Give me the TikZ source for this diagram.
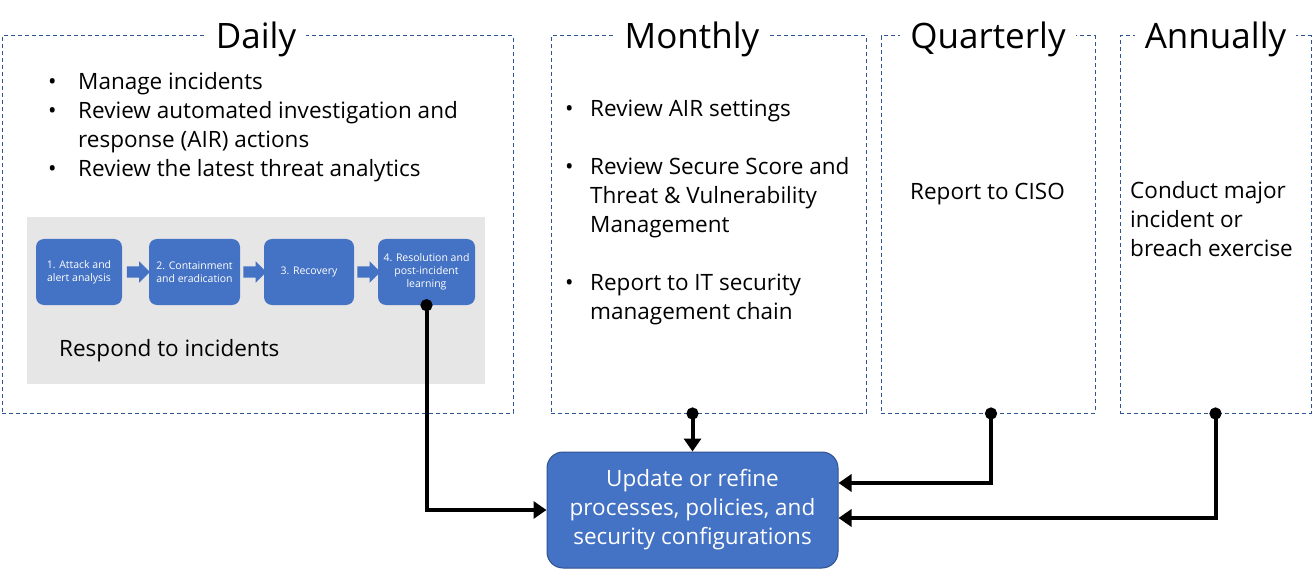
\documentclass[tikz,border=0pt]{standalone}
\usepackage{fontspec}
\setmainfont{Open Sans}
\usetikzlibrary{shapes.arrows,arrows.meta}
\definecolor{boxblue}{HTML}{4472C4}
\definecolor{edgeblue}{HTML}{2F528F}
\definecolor{dashblue}{HTML}{2F5597}
\definecolor{panelgray}{HTML}{E7E6E6}
\tikzset{
  frame/.style={draw=dashblue,line width=1pt,dash pattern=on 4pt off 3pt,minimum height=377pt,inner sep=0pt},
  title/.style={fill=white,inner xsep=10pt,inner ysep=2pt,anchor=base,font=\fontsize{35}{40}\selectfont},
  body/.style={anchor=base west,inner sep=0pt,font=\fontsize{22.5}{29}\selectfont},
  stage/.style={fill=boxblue,rounded corners=8pt,minimum height=66pt,inner sep=2pt,text=white,align=center,font=\fontsize{10.5}{13}\selectfont},
  flow/.style={single arrow,fill=boxblue,minimum height=23pt,minimum width=21pt,inner xsep=0pt,inner ysep=5.5pt,single arrow head extend=5pt},
  link/.style={line width=4pt,{Circle[length=12pt]}-{Triangle[length=13pt,width=17pt]},shorten <=-6pt}
}
\begin{document}
\begin{tikzpicture}[x=1pt,y=-1pt]
  \useasboundingbox (0,0) rectangle (1313,569);
  % time frames
  \foreach \name/\cx/\w/\tx/\title in {daily/257.5/511/256/Daily,monthly/708.5/315/692/Monthly,quarterly/988/214/988/Quarterly,annually/1215.5/191/1215.5/Annually}
  {
    \node[frame,minimum width=\w pt] (\name) at (\cx,224.5) {};
    \node[title] (\name-t) at (\tx,49) {\title};
  }

  \node[body] (daily-list) at (48,90) {\begin{tabular}[t]{@{}p{30pt}@{}l@{}}
    • & Manage incidents\\
    • & Review automated investigation and\\
      & response (AIR) actions\\
    • & Review the latest threat analytics
  \end{tabular}};

  % respond to incidents
  \node[fill=panelgray,minimum width=458pt,minimum height=167pt,inner sep=0pt] (panel) at (256,300.5) {};
  \node[stage,minimum width=86pt] (r1) at (79,272) {1. Attack and\\alert analysis};
  \node[stage,minimum width=91pt] (r2) at (194.5,272) {2. Containment\\and eradication};
  \node[stage,minimum width=90pt] (r3) at (309,272) {3. Recovery};
  \node[stage,minimum width=97pt] (r4) at (426.5,272) {4. Resolution and\\post-incident\\learning};
  \node[flow] (a1) at (135.5,272) {};
  \node[flow] (a2) at (252,272) {};
  \node[flow] (a3) at (366,272) {};
  \node[body] (respond) at (59,356) {Respond to incidents};

  \node[body] (monthly-list) at (565,117) {\begin{tabular}[t]{@{}p{25pt}@{}l@{}}
    • & Review AIR settings\\
      & \\
    • & Review Secure Score and\\
      & Threat \& Vulnerability\\
      & Management\\
      & \\
    • & Report to IT security\\
      & management chain
  \end{tabular}};
  \node[body] (quarterly-text) at (910,200) {Report to CISO};
  \node[body] (annually-text) at (1130,199) {\begin{tabular}[t]{@{}l@{}}
    Conduct major\\
    incident or\\
    breach exercise
  \end{tabular}};

  \node[fill=boxblue,draw=edgeblue,line width=1pt,rounded corners=16pt,minimum width=291pt,minimum height=116pt,
        text=white,align=center,font=\fontsize{22.5}{29}\selectfont] (update) at (692.5,510)
        {Update or refine\\processes, policies, and\\security configurations};

  \draw[link] (r4.south) |- (update.west);
  \draw[link] (monthly.south-|update.north) -- (update.north);
  \draw[link] ([xshift=3pt]quarterly.south) |- ([yshift=27pt]update.east);
  \draw[link] (annually.south) |- ([yshift=-8pt]update.east);
\end{tikzpicture}
\end{document}
